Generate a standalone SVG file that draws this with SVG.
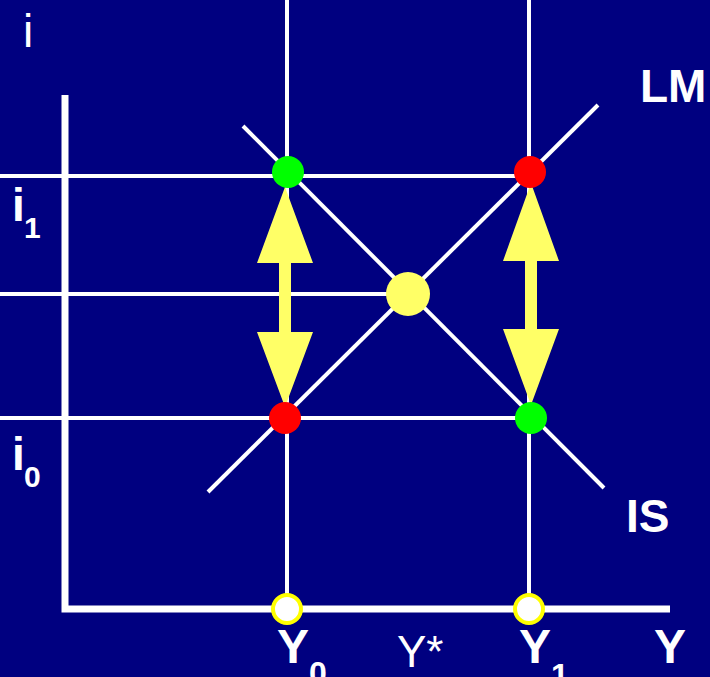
<svg xmlns="http://www.w3.org/2000/svg" width="710" height="677" viewBox="0 0 710 677">
<defs>
<style>
.bg{fill:#000080}
.thin{stroke:#fff;stroke-width:4;fill:none}
.axis{stroke:#fff;stroke-width:7;fill:none}
.lbl{font-family:"Liberation Sans",Arial,sans-serif;fill:#fff}
.b{font-weight:bold}
.arrow{fill:#FFFF66}
</style>
</defs>
<rect class="bg" x="0" y="0" width="710" height="677"/>
<g id="connectors">
<line class="thin" x1="287" y1="0" x2="287" y2="609"/>
<line class="thin" x1="529" y1="0" x2="529" y2="609"/>
<line class="thin" x1="0" y1="176" x2="530" y2="176"/>
<line class="thin" x1="0" y1="294" x2="408" y2="294"/>
<line class="thin" x1="0" y1="418" x2="530" y2="418"/>
<line class="thin" x1="243" y1="126" x2="604" y2="488"/>
<line class="thin" x1="208" y1="492" x2="598" y2="105"/>
<polyline class="axis" points="65,95 65,609 670,609"/>
</g>
<g id="arrow-left">
<polygon class="arrow" points="285,187 313,263 291,263 291,332 313,332 285,407 257,332 279,332 279,263 257,263"/>
</g>
<g id="arrow-right">
<polygon class="arrow" points="531,183 559,261 537,261 537,329 559,329 531,405 503,329 525,329 525,261 503,261"/>
</g>
<g id="dot-g1"><circle cx="288" cy="172" r="16" fill="#00FF00"/></g>
<g id="dot-r1"><circle cx="530" cy="172" r="16" fill="#FF0000"/></g>
<g id="dot-r0"><circle cx="285" cy="418" r="16" fill="#FF0000"/></g>
<g id="dot-g0"><circle cx="531" cy="418" r="16" fill="#00FF00"/></g>
<g id="dot-eq"><circle cx="408" cy="294" r="22" fill="#FFFF66"/></g>
<g id="y0-point"><circle cx="287" cy="609" r="14" fill="#fff" stroke="#FFFF00" stroke-width="4"/></g>
<g id="y1-point"><circle cx="529" cy="609" r="14" fill="#fff" stroke="#FFFF00" stroke-width="4"/></g>
<g id="labels">
<text class="lbl" x="23" y="47" font-size="46">i</text>
<text class="lbl b" x="12" y="221" font-size="46">i</text>
<text class="lbl b" x="24" y="238" font-size="30">1</text>
<text class="lbl b" x="12" y="470" font-size="46">i</text>
<text class="lbl b" x="24" y="487" font-size="30">0</text>
<text class="lbl b" x="640" y="102" font-size="46">LM</text>
<text class="lbl b" x="626" y="532" font-size="46">IS</text>
<text class="lbl b" x="277" y="663" font-size="48">Y</text>
<text class="lbl b" x="309" y="684" font-size="32">0</text>
<text class="lbl" x="397" y="667" font-size="44">Y*</text>
<text class="lbl b" x="519" y="663" font-size="48">Y</text>
<text class="lbl b" x="551" y="686" font-size="32">1</text>
<text class="lbl b" x="654" y="663" font-size="48">Y</text>
</g>
</svg>
